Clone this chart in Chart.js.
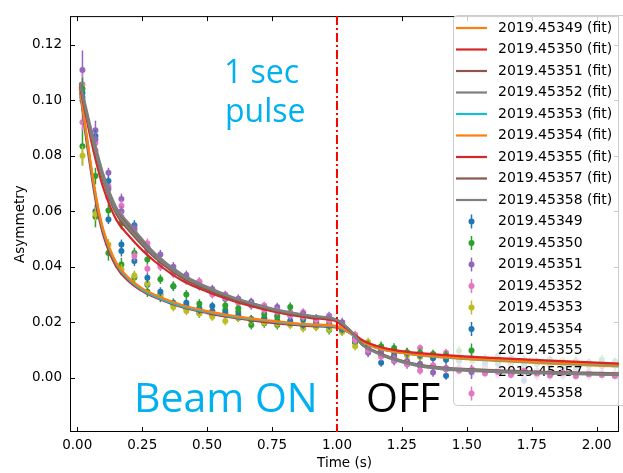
<!DOCTYPE html>
<html>
<head>
<meta charset="utf-8">
<script src="https://cdn.jsdelivr.net/npm/chart.js@4.4.0/dist/chart.umd.min.js"></script>
<style>
  body { margin: 0; background: #fff; }
  canvas { display: block; }
</style>
</head>
<body>
<canvas id="chart" width="623" height="473"></canvas>
<script>
const runs = ["2019.45349", "2019.45350", "2019.45351", "2019.45352", "2019.45353",
              "2019.45354", "2019.45355", "2019.45357", "2019.45358"];
const fitColors = ["#ff7f0e", "#d62728", "#8c564b", "#7f7f7f", "#17becf",
                   "#ff7f0e", "#d62728", "#8c564b", "#7f7f7f"];
const dataColors = ["#1f77b4", "#2ca02c", "#9467bd", "#e377c2", "#bcbd22",
                    "#1f77b4", "#2ca02c", "#9467bd", "#e377c2"];

const xTicks = [0, 0.25, 0.5, 0.75, 1.0, 1.25, 1.5, 1.75, 2.0];
const yTicks = [0, 0.02, 0.04, 0.06, 0.08, 0.10, 0.12];
const xMin = -0.028, xMax = 2.086;
const yMin = -0.0196, yMax = 0.1304;
const pulseEnd = 1.0;

// measured points, one bin every 0.05 s
const times = [0.02, 0.07, 0.12, 0.17, 0.22, 0.27, 0.32, 0.37, 0.42, 0.47,
               0.52, 0.57, 0.62, 0.67, 0.72, 0.77, 0.82, 0.87, 0.92, 0.97,
               1.02, 1.07, 1.12, 1.17, 1.22, 1.27, 1.32, 1.37, 1.42, 1.47,
               1.52, 1.57, 1.62, 1.67, 1.72, 1.77, 1.82, 1.87, 1.92, 1.97,
               2.02, 2.07];

const asym45349 = [0.1028, 0.0600, 0.0570, 0.0457, 0.0421, 0.0335, 0.0300, 0.0270, 0.0262, 0.0250,
                   0.0258, 0.0228, 0.0215, 0.0212, 0.0212, 0.0198, 0.0205, 0.0209, 0.0187, 0.0181,
                   0.0168, 0.0127, 0.0118, 0.0054, 0.0095, 0.0090, 0.0076, 0.0081, 0.0007, 0.0072,
                   0.0060, 0.0041, 0.0078, 0.0052, -0.0010, 0.0049, 0.0066, 0.0035, 0.0053, 0.0020,
                   0.0047, 0.0058];
const asym45350 = [0.0835, 0.0580, 0.0450, 0.0408, 0.0361, 0.0310, 0.0290, 0.0262, 0.0250, 0.0232,
                   0.0225, 0.0244, 0.0237, 0.0190, 0.0196, 0.0190, 0.0195, 0.0185, 0.0185, 0.0172,
                   0.0170, 0.0128, 0.0112, 0.0113, 0.0107, 0.0085, 0.0080, 0.0078, 0.0070, 0.0096,
                   0.0065, 0.0060, 0.0070, 0.0055, 0.0062, 0.0050, 0.0058, 0.0045, 0.0060, 0.0042,
                   0.0065, 0.0050];
const asym45351 = [0.1110, 0.0892, 0.0739, 0.0644, 0.0530, 0.0470, 0.0444, 0.0400, 0.0370, 0.0345,
                   0.0310, 0.0284, 0.0280, 0.0265, 0.0255, 0.0255, 0.0230, 0.0225, 0.0215, 0.0223,
                   0.0200, 0.0150, 0.0090, 0.0080, 0.0060, 0.0048, 0.0050, 0.0019, 0.0035, 0.0028,
                   0.0015, 0.0030, 0.0020, 0.0035, 0.0010, 0.0025, 0.0005, 0.0020, 0.0012, 0.0018,
                   0.0008, 0.0015];
const asym45352 = [0.1058, 0.0846, 0.0690, 0.0620, 0.0535, 0.0485, 0.0410, 0.0385, 0.0360, 0.0347,
                   0.0315, 0.0300, 0.0270, 0.0275, 0.0260, 0.0226, 0.0237, 0.0236, 0.0208, 0.0219,
                   0.0190, 0.0155, 0.0115, 0.0085, 0.0070, 0.0055, 0.0107, 0.0040, 0.0090, 0.0030,
                   0.0020, 0.0035, 0.0010, 0.0028, 0.0015, 0.0005, 0.0022, 0.0010, 0.0018, 0.0005,
                   0.0012, 0.0008];
const asym45353 = [0.0800, 0.0590, 0.0480, 0.0390, 0.0368, 0.0340, 0.0300, 0.0255, 0.0240, 0.0231,
                   0.0220, 0.0204, 0.0215, 0.0205, 0.0200, 0.0195, 0.0190, 0.0178, 0.0182, 0.0175,
                   0.0165, 0.0113, 0.0129, 0.0095, 0.0090, 0.0080, 0.0075, 0.0084, 0.0068, 0.0070,
                   0.0062, 0.0066, 0.0055, 0.0060, 0.0050, 0.0056, 0.0048, 0.0062, 0.0040, 0.0050,
                   0.0052, 0.0043];
const asym45354 = [0.1010, 0.0872, 0.0709, 0.0480, 0.0550, 0.0360, 0.0310, 0.0330, 0.0270, 0.0245,
                   0.0240, 0.0235, 0.0225, 0.0270, 0.0215, 0.0205, 0.0200, 0.0190, 0.0195, 0.0188,
                   0.0175, 0.0135, 0.0105, 0.0100, 0.0080, 0.0090, 0.0082, 0.0070, 0.0065, 0.0060,
                   0.0072, 0.0055, 0.0050, 0.0068, 0.0040, 0.0058, 0.0045, 0.0052, 0.0030, 0.0055,
                   0.0040, 0.0046];
const asym45355 = [0.1042, 0.0727, 0.0603, 0.0556, 0.0450, 0.0426, 0.0355, 0.0330, 0.0300, 0.0267,
                   0.0308, 0.0260, 0.0250, 0.0209, 0.0230, 0.0220, 0.0255, 0.0215, 0.0200, 0.0195,
                   0.0180, 0.0140, 0.0118, 0.0105, 0.0100, 0.0092, 0.0090, 0.0085, 0.0080, 0.0075,
                   0.0070, 0.0068, 0.0062, 0.0066, 0.0058, 0.0055, 0.0060, 0.0050, 0.0052, 0.0048,
                   0.0056, 0.0045];
const asym45357 = [0.1000, 0.0860, 0.0680, 0.0600, 0.0540, 0.0460, 0.0420, 0.0390, 0.0360, 0.0330,
                   0.0320, 0.0295, 0.0285, 0.0260, 0.0250, 0.0240, 0.0225, 0.0230, 0.0205, 0.0215,
                   0.0195, 0.0140, 0.0105, 0.0090, 0.0072, 0.0060, 0.0042, 0.0040, 0.0030, 0.0035,
                   0.0025, 0.0020, 0.0028, 0.0018, 0.0025, 0.0012, 0.0020, 0.0008, 0.0015, 0.0010,
                   0.0016, 0.0005];
const asym45358 = [0.0921, 0.0820, 0.0650, 0.0580, 0.0439, 0.0393, 0.0400, 0.0375, 0.0350, 0.0330,
                   0.0300, 0.0290, 0.0275, 0.0265, 0.0245, 0.0240, 0.0225, 0.0220, 0.0210, 0.0205,
                   0.0185, 0.0135, 0.0100, 0.0075, 0.0065, 0.0050, 0.0025, 0.0045, 0.0030, 0.0025,
                   0.0030, 0.0015, 0.0020, 0.0010, 0.0025, 0.0015, 0.0008, 0.0018, 0.0005, 0.0012,
                   0.0010, 0.0006];

const err45349 = [0.0030, 0.0025, 0.0016, 0.0020, 0.0018, 0.0017, 0.0016, 0.0016, 0.0015, 0.0015,
                  0.0015, 0.0015, 0.0014, 0.0014, 0.0014, 0.0014, 0.0014, 0.0014, 0.0014, 0.0014,
                  0.0015, 0.0015, 0.0015, 0.0015, 0.0015, 0.0015, 0.0015, 0.0015, 0.0015, 0.0015,
                  0.0015, 0.0015, 0.0015, 0.0015, 0.0015, 0.0015, 0.0015, 0.0015, 0.0015, 0.0015,
                  0.0015, 0.0015];
const err45350 = [0.0070, 0.0038, 0.0028, 0.0024, 0.0021, 0.0019, 0.0018, 0.0018, 0.0017, 0.0017,
                  0.0017, 0.0016, 0.0016, 0.0016, 0.0016, 0.0016, 0.0016, 0.0016, 0.0016, 0.0016,
                  0.0017, 0.0017, 0.0017, 0.0017, 0.0017, 0.0017, 0.0017, 0.0017, 0.0017, 0.0017,
                  0.0017, 0.0017, 0.0017, 0.0017, 0.0017, 0.0017, 0.0017, 0.0017, 0.0017, 0.0017,
                  0.0017, 0.0017];
const err45351 = [0.0070, 0.0035, 0.0018, 0.0020, 0.0019, 0.0018, 0.0017, 0.0017, 0.0016, 0.0016,
                  0.0015, 0.0015, 0.0015, 0.0015, 0.0015, 0.0015, 0.0015, 0.0015, 0.0015, 0.0015,
                  0.0016, 0.0016, 0.0016, 0.0016, 0.0016, 0.0016, 0.0016, 0.0016, 0.0016, 0.0016,
                  0.0016, 0.0016, 0.0016, 0.0016, 0.0016, 0.0016, 0.0016, 0.0016, 0.0016, 0.0016,
                  0.0016, 0.0016];
const err45352 = [0.0040, 0.0025, 0.0020, 0.0019, 0.0018, 0.0017, 0.0016, 0.0016, 0.0015, 0.0015,
                  0.0015, 0.0014, 0.0014, 0.0014, 0.0014, 0.0014, 0.0014, 0.0014, 0.0014, 0.0014,
                  0.0014, 0.0014, 0.0014, 0.0014, 0.0014, 0.0014, 0.0013, 0.0014, 0.0014, 0.0014,
                  0.0015, 0.0015, 0.0015, 0.0015, 0.0015, 0.0015, 0.0015, 0.0015, 0.0015, 0.0015,
                  0.0015, 0.0015];
const err45353 = [0.0035, 0.0025, 0.0020, 0.0019, 0.0018, 0.0017, 0.0016, 0.0016, 0.0015, 0.0015,
                  0.0015, 0.0015, 0.0015, 0.0015, 0.0015, 0.0015, 0.0015, 0.0015, 0.0015, 0.0015,
                  0.0015, 0.0015, 0.0015, 0.0015, 0.0015, 0.0015, 0.0015, 0.0015, 0.0015, 0.0015,
                  0.0015, 0.0015, 0.0015, 0.0015, 0.0015, 0.0015, 0.0015, 0.0015, 0.0015, 0.0015,
                  0.0015, 0.0015];
const err45354 = [0.0030, 0.0022, 0.0016, 0.0018, 0.0018, 0.0017, 0.0016, 0.0016, 0.0015, 0.0015,
                  0.0015, 0.0015, 0.0015, 0.0015, 0.0014, 0.0014, 0.0014, 0.0014, 0.0014, 0.0014,
                  0.0015, 0.0015, 0.0015, 0.0015, 0.0015, 0.0015, 0.0015, 0.0015, 0.0015, 0.0015,
                  0.0015, 0.0015, 0.0015, 0.0015, 0.0015, 0.0015, 0.0015, 0.0015, 0.0015, 0.0015,
                  0.0015, 0.0015];
const err45355 = [0.0040, 0.0030, 0.0024, 0.0021, 0.0019, 0.0018, 0.0017, 0.0017, 0.0016, 0.0016,
                  0.0016, 0.0016, 0.0016, 0.0016, 0.0016, 0.0016, 0.0016, 0.0016, 0.0016, 0.0016,
                  0.0016, 0.0016, 0.0016, 0.0016, 0.0016, 0.0016, 0.0016, 0.0016, 0.0016, 0.0016,
                  0.0016, 0.0016, 0.0016, 0.0016, 0.0016, 0.0016, 0.0016, 0.0016, 0.0016, 0.0016,
                  0.0016, 0.0016];
const err45357 = [0.0040, 0.0026, 0.0020, 0.0019, 0.0018, 0.0017, 0.0016, 0.0016, 0.0015, 0.0015,
                  0.0015, 0.0015, 0.0015, 0.0015, 0.0015, 0.0015, 0.0015, 0.0015, 0.0015, 0.0015,
                  0.0015, 0.0015, 0.0015, 0.0015, 0.0015, 0.0015, 0.0015, 0.0015, 0.0015, 0.0015,
                  0.0015, 0.0015, 0.0015, 0.0015, 0.0015, 0.0015, 0.0015, 0.0015, 0.0015, 0.0015,
                  0.0015, 0.0015];
const err45358 = [0.0030, 0.0024, 0.0020, 0.0019, 0.0018, 0.0017, 0.0016, 0.0016, 0.0015, 0.0015,
                  0.0015, 0.0015, 0.0015, 0.0015, 0.0015, 0.0015, 0.0015, 0.0015, 0.0015, 0.0015,
                  0.0014, 0.0014, 0.0014, 0.0014, 0.0014, 0.0014, 0.0014, 0.0014, 0.0014, 0.0014,
                  0.0015, 0.0015, 0.0015, 0.0015, 0.0015, 0.0015, 0.0015, 0.0015, 0.0015, 0.0015,
                  0.0015, 0.0015];

// fitted curves, sampled finer where they bend
const fitTimes = [0.01, 0.03, 0.05, 0.075, 0.1, 0.15, 0.2, 0.25, 0.3, 0.4, 0.5, 0.6, 0.7,
                  0.8, 0.9, 1.0, 1.03, 1.06, 1.1, 1.15, 1.2, 1.3, 1.4, 1.6, 1.8, 2.1];

const fit45349 = [0.1050, 0.0910, 0.0780, 0.0635, 0.0530, 0.0410, 0.0355, 0.0320, 0.0296, 0.0261, 0.0238, 0.0221, 0.0208,
                  0.0198, 0.0190, 0.0184, 0.0172, 0.0155, 0.0128, 0.0108, 0.0096, 0.0082, 0.0073, 0.0061, 0.0051, 0.0040];
const fit45350 = [0.1040, 0.0890, 0.0760, 0.0615, 0.0515, 0.0400, 0.0346, 0.0312, 0.0289, 0.0255, 0.0233, 0.0216, 0.0203,
                  0.0193, 0.0186, 0.0180, 0.0170, 0.0156, 0.0132, 0.0113, 0.0101, 0.0088, 0.0080, 0.0068, 0.0059, 0.0048];
const fit45351 = [0.1060, 0.0980, 0.0900, 0.0810, 0.0725, 0.0605, 0.0545, 0.0490, 0.0440, 0.0368, 0.0322, 0.0286, 0.0259,
                  0.0236, 0.0221, 0.0207, 0.0188, 0.0162, 0.0117, 0.0092, 0.0072, 0.0046, 0.0033, 0.0023, 0.0017, 0.0011];
const fit45352 = [0.1065, 0.0990, 0.0910, 0.0820, 0.0735, 0.0615, 0.0555, 0.0499, 0.0448, 0.0375, 0.0328, 0.0290, 0.0262,
                  0.0239, 0.0223, 0.0209, 0.0189, 0.0162, 0.0115, 0.0090, 0.0070, 0.0044, 0.0031, 0.0021, 0.0015, 0.0009];
const fit45353 = [0.1045, 0.0905, 0.0775, 0.0632, 0.0528, 0.0410, 0.0352, 0.0316, 0.0292, 0.0258, 0.0236, 0.0219, 0.0207,
                  0.0197, 0.0189, 0.0183, 0.0171, 0.0154, 0.0128, 0.0108, 0.0097, 0.0083, 0.0075, 0.0063, 0.0054, 0.0043];
const fit45354 = [0.1048, 0.0915, 0.0785, 0.0640, 0.0535, 0.0415, 0.0358, 0.0322, 0.0298, 0.0263, 0.0240, 0.0223, 0.0210,
                  0.0200, 0.0192, 0.0186, 0.0174, 0.0156, 0.0129, 0.0109, 0.0097, 0.0084, 0.0076, 0.0065, 0.0056, 0.0046];
const fit45355 = [0.1055, 0.0960, 0.0870, 0.0770, 0.0685, 0.0570, 0.0510, 0.0460, 0.0418, 0.0352, 0.0310, 0.0277, 0.0251,
                  0.0230, 0.0215, 0.0202, 0.0182, 0.0161, 0.0134, 0.0115, 0.0103, 0.0090, 0.0082, 0.0071, 0.0062, 0.0050];
const fit45357 = [0.1058, 0.0970, 0.0885, 0.0795, 0.0710, 0.0590, 0.0530, 0.0478, 0.0432, 0.0362, 0.0317, 0.0282, 0.0256,
                  0.0234, 0.0219, 0.0205, 0.0186, 0.0161, 0.0118, 0.0094, 0.0075, 0.0050, 0.0037, 0.0027, 0.0021, 0.0015];
const fit45358 = [0.1062, 0.0975, 0.0890, 0.0800, 0.0715, 0.0598, 0.0538, 0.0485, 0.0438, 0.0368, 0.0323, 0.0287, 0.0260,
                  0.0237, 0.0222, 0.0208, 0.0188, 0.0162, 0.0117, 0.0092, 0.0073, 0.0048, 0.0035, 0.0025, 0.0019, 0.0013];

const asymSets = [asym45349, asym45350, asym45351, asym45352, asym45353, asym45354, asym45355, asym45357, asym45358];
const errSets = [err45349, err45350, err45351, err45352, err45353, err45354, err45355, err45357, err45358];
const fitSets = [fit45349, fit45350, fit45351, fit45352, fit45353, fit45354, fit45355, fit45357, fit45358];

const tickFont = { family: "DejaVu Sans", size: 13.5 };

const datasets = [];
runs.forEach((run, i) => {
    datasets.push({
        label: run + " (fit)",
        data: fitTimes.map((t, j) => ({ x: t, y: fitSets[i][j] })),
        showLine: true,
        pointRadius: 0,
        borderColor: fitColors[i],
        borderWidth: 2.2,
        cubicInterpolationMode: "monotone",
        clip: 0,
        order: 9 - i
    });
});
runs.forEach((run, i) => {
    datasets.push({
        label: run,
        data: times.map((t, j) => ({ x: t, y: asymSets[i][j] })),
        err: errSets[i],
        showLine: false,
        pointRadius: 3,
        pointBackgroundColor: dataColors[i],
        pointBorderWidth: 0,
        clip: 0,
        order: 20 - i
    });
});

// vertical error bars under each measured series
const errorBars = {
    id: "errorBars",
    beforeDatasetDraw(chart, args) {
        const ds = chart.data.datasets[args.index];
        if (!ds.err) return;
        const { ctx, chartArea: a, scales: { x, y } } = chart;
        ctx.save();
        ctx.beginPath();
        ctx.rect(a.left, a.top, a.width, a.height);
        ctx.clip();
        ctx.strokeStyle = ds.pointBackgroundColor;
        ctx.lineWidth = 1.5;
        ds.data.forEach((p, j) => {
            const px = x.getPixelForValue(p.x);
            ctx.beginPath();
            ctx.moveTo(px, y.getPixelForValue(p.y - ds.err[j]));
            ctx.lineTo(px, y.getPixelForValue(p.y + ds.err[j]));
            ctx.stroke();
        });
        ctx.restore();
        // the legend sits above the points but under the fit lines
        if (args.index === runs.length * 2 - 1) drawLegend(chart);
    }
};

// box with inward ticks on all four sides, like matplotlib
const frame = {
    id: "frame",
    beforeDatasetsDraw(chart) {
        const { ctx, chartArea: a, scales: { x, y } } = chart;
        ctx.save();
        ctx.strokeStyle = "#000";
        ctx.lineWidth = 1;
        ctx.strokeRect(a.left + 0.5, a.top + 0.5, a.width - 1, a.height - 1);
        ctx.beginPath();
        xTicks.forEach(v => {
            const px = Math.round(x.getPixelForValue(v)) + 0.5;
            ctx.moveTo(px, a.bottom); ctx.lineTo(px, a.bottom - 5);
            ctx.moveTo(px, a.top); ctx.lineTo(px, a.top + 5);
        });
        yTicks.forEach(v => {
            const py = Math.round(y.getPixelForValue(v)) + 0.5;
            ctx.moveTo(a.left, py); ctx.lineTo(a.left + 5, py);
            ctx.moveTo(a.right, py); ctx.lineTo(a.right - 5, py);
        });
        ctx.stroke();
        ctx.restore();
    }
};

const annotations = {
    id: "annotations",
    afterDatasetsDraw(chart) {
        const { ctx, chartArea: a, scales: { x } } = chart;
        ctx.save();
        ctx.strokeStyle = "#ff0000";
        ctx.lineWidth = 2;
        ctx.setLineDash([9, 3, 2, 3]);
        const px = x.getPixelForValue(pulseEnd);
        ctx.beginPath();
        ctx.moveTo(px, a.top);
        ctx.lineTo(px, a.bottom);
        ctx.stroke();
        ctx.setLineDash([]);

        ctx.textBaseline = "alphabetic";
        ctx.textAlign = "left";
        ctx.fillStyle = "#00b0f0";
        ctx.font = "32px 'Open Sans'";
        ctx.fillText("1 sec", 224, 83);
        ctx.fillText("pulse", 225, 122);
        ctx.font = "41px 'Open Sans'";
        ctx.fillText("Beam ON", 134, 412);
        ctx.fillStyle = "#000";
        ctx.fillText("OFF", 366, 412);
        ctx.restore();
    }
};

function drawLegend(chart) {
    const ctx = chart.ctx;
    const left = 453, top = 15, bottom = 405, right = 660;
    ctx.save();
    ctx.beginPath();
    ctx.roundRect(left + 0.5, top + 0.5, right - left, bottom - top, 4);
    ctx.fillStyle = "rgba(255,255,255,0.8)";
    ctx.fill();
    ctx.strokeStyle = "#cccccc";
    ctx.lineWidth = 1;
    ctx.stroke();

    ctx.font = "14px 'DejaVu Sans'";
    ctx.textBaseline = "middle";
    ctx.textAlign = "left";
    const rowH = 21.5, y0 = 28;
    runs.forEach((run, i) => {
        const yy = y0 + rowH * i;
        ctx.strokeStyle = fitColors[i];
        ctx.lineWidth = 2.2;
        ctx.beginPath();
        ctx.moveTo(456, yy);
        ctx.lineTo(487, yy);
        ctx.stroke();
        ctx.fillStyle = "#000";
        ctx.fillText(run + " (fit)", 498, yy);
    });
    runs.forEach((run, i) => {
        const yy = y0 + rowH * (i + runs.length);
        ctx.strokeStyle = dataColors[i];
        ctx.fillStyle = dataColors[i];
        ctx.lineWidth = 1.5;
        ctx.beginPath();
        ctx.moveTo(471.5, yy - 7);
        ctx.lineTo(471.5, yy + 7);
        ctx.stroke();
        ctx.beginPath();
        ctx.arc(471.5, yy, 3, 0, Math.PI * 2);
        ctx.fill();
        ctx.fillStyle = "#000";
        ctx.fillText(run, 498, yy);
    });
    ctx.restore();
}

new Chart(document.getElementById("chart"), {
    type: "scatter",
    data: { datasets },
    options: {
        responsive: false,
        animation: false,
        events: [],
        layout: { padding: { top: 9, right: 1, left: 0, bottom: 0 } },
        plugins: { legend: { display: false }, tooltip: { enabled: false } },
        scales: {
            x: {
                type: "linear",
                min: xMin,
                max: xMax,
                afterBuildTicks: s => { s.ticks = xTicks.map(v => ({ value: v })); },
                afterFit: s => { s.height = 41; },
                grid: { display: false, drawTicks: false },
                border: { display: false },
                ticks: { callback: v => v.toFixed(2), font: tickFont, color: "#000", padding: 5, maxRotation: 0, autoSkip: false },
                title: { display: true, text: "Time (s)", font: tickFont, color: "#000", padding: { top: 0, bottom: 1 } }
            },
            y: {
                type: "linear",
                min: yMin,
                max: yMax,
                afterBuildTicks: s => { s.ticks = yTicks.map(v => ({ value: v })); },
                afterFit: s => { s.width = 70; },
                grid: { display: false, drawTicks: false },
                border: { display: false },
                ticks: { callback: v => v.toFixed(2), font: tickFont, color: "#000", padding: 8, autoSkip: false },
                title: { display: true, text: "Asymmetry", font: tickFont, color: "#000", padding: { top: 12, bottom: 0 } }
            }
        }
    },
    plugins: [frame, errorBars, annotations]
});
</script>
</body>
</html>
